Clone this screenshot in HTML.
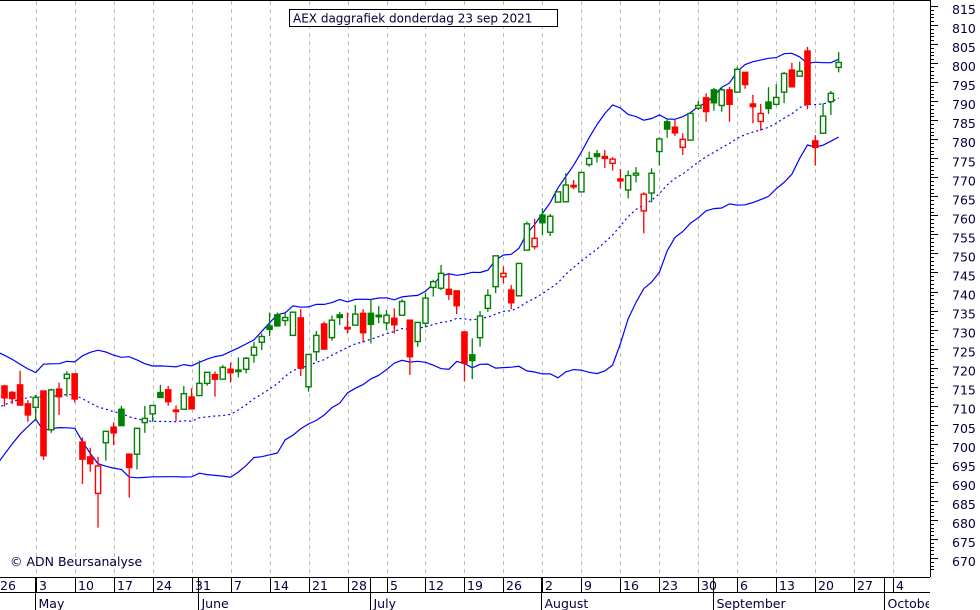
<!DOCTYPE html>
<html><head><meta charset="utf-8"><style>
html,body{margin:0;padding:0;background:#fff;}
svg{display:block;font-family:"DejaVu Sans","Liberation Sans",sans-serif;}
</style></head><body>
<svg id="chart" width="980" height="610" viewBox="0 0 980 610" xmlns="http://www.w3.org/2000/svg">
<rect x="0" y="0" width="980" height="610" fill="#fff"/>
<g id="grid"></g>
<g id="bands" clip-path="url(#plotclip)"></g>
<g id="candles" clip-path="url(#plotclip)"></g>
<defs><clipPath id="plotclip"><rect x="0" y="0" width="930" height="577"/></clipPath>
<clipPath id="axclip"><rect x="0" y="577" width="929" height="33"/></clipPath></defs>
<line x1="0" y1="0.5" x2="930" y2="0.5" stroke="#000"/>
<line x1="930.5" y1="0" x2="930.5" y2="577" stroke="#000"/>
<line x1="0" y1="577.5" x2="930" y2="577.5" stroke="#000"/>
<line x1="0" y1="592.5" x2="930" y2="592.5" stroke="#000"/>
<g id="yaxis"></g>
<g id="xaxis" clip-path="url(#axclip)"></g>
<g>
<rect x="289.5" y="9.5" width="268" height="17" fill="#fff" stroke="#000"/>
<text x="293" y="22.5" font-size="12" fill="#00003c">AEX daggrafiek donderdag 23 sep 2021</text>
</g>
<text x="10" y="566" font-size="12.5" fill="#00003c">© ADN Beursanalyse</text>
</svg>
<script>
const priorCloses=[694,696,698,700,703,706,708,710,713,715,716,717,716,715,717,714,713,715,716,715];
const opens=[715.7,714.0,716.0,711.0,710.1,714.4,704.2,714.9,717.7,718.9,701.0,697.1,687.5,700.8,704.9,709.6,697.8,697.8,706.1,708.4,714.0,714.7,709.4,709.6,712.8,713.2,716.4,718.7,717.5,720.1,719.9,720.1,723.8,727.2,731.5,734.4,732.9,729.0,733.6,715.5,724.7,732.0,728.4,734.4,731.1,731.7,734.8,734.8,734.3,732.3,733.5,734.3,733.0,727.4,732.2,741.6,741.4,741.1,740.7,729.9,723.9,728.4,736.1,741.8,744.4,740.9,739.4,751.4,752.3,760.6,756.1,764.0,764.1,768.4,766.7,773.9,776.7,776.0,774.2,770.1,767.2,771.1,761.7,766.4,777.3,785.1,783.7,778.4,780.3,788.7,791.4,793.5,789.4,793.5,792.9,798.1,789.8,785.2,790.3,789.7,792.9,798.7,797.1,803.7,780.1,782.1,790.4,799.4];
const highs=[716.0,714.4,719.7,712.0,713.3,714.4,715.0,716.6,719.6,718.9,702.2,699.5,697.1,703.8,706.2,710.5,698.0,704.6,710.5,710.6,716.0,715.7,710.6,715.7,715.1,722.4,719.3,719.5,721.2,721.8,723.2,723.3,727.3,729.5,735.0,735.0,734.8,735.1,735.9,724.0,730.2,732.6,734.2,735.1,735.0,737.0,735.9,738.5,736.7,735.7,736.1,738.5,733.0,732.4,740.1,743.6,747.5,745.0,740.7,729.9,728.2,735.4,741.1,749.9,747.1,742.2,747.9,758.9,759.6,762.4,760.9,766.7,771.6,769.8,772.0,777.3,777.7,777.7,775.8,772.7,772.3,773.2,766.6,772.9,781.0,785.8,785.6,782.1,787.3,790.6,792.6,794.0,794.3,794.3,799.6,798.1,792.2,789.8,794.2,795.0,798.2,800.6,800.9,804.8,781.6,790.0,793.2,803.4];
const lows=[710.3,711.0,710.7,706.3,706.5,696.3,703.4,708.1,712.9,711.4,690.0,693.2,678.5,696.1,700.2,705.3,686.4,693.8,703.4,706.3,712.7,710.5,706.5,709.6,709.7,713.2,715.8,712.9,717.5,716.6,718.0,719.0,721.8,725.2,728.8,731.3,731.5,729.0,718.3,714.2,722.3,725.4,727.6,731.7,729.5,731.7,727.1,726.9,732.2,730.4,729.5,734.3,718.6,726.0,731.1,739.2,740.9,738.3,734.6,716.9,717.5,726.0,735.2,740.1,742.7,735.9,739.4,751.4,751.6,755.4,755.1,763.9,764.1,767.4,766.7,773.3,774.4,773.0,772.3,767.6,765.0,769.2,755.8,763.9,773.6,780.9,781.4,776.4,780.3,788.2,785.1,788.0,787.8,785.1,792.9,793.8,784.7,782.8,787.2,789.4,790.0,794.3,797.1,788.4,773.6,782.1,786.9,798.1];
const closes=[712.6,712.4,710.7,708.1,712.7,697.4,714.7,712.9,718.8,712.3,696.5,695.3,694.7,703.8,703.4,705.3,694.3,704.6,707.2,710.6,712.7,711.6,709.0,713.7,709.7,716.4,719.3,717.5,720.6,719.2,719.5,723.0,725.9,728.7,730.6,731.5,733.7,735.1,720.4,724.0,729.0,725.4,733.0,733.7,730.7,734.6,729.7,731.9,733.9,734.3,731.8,737.9,723.4,732.4,738.8,743.1,745.3,739.8,736.8,721.7,722.4,734.1,739.5,749.9,745.3,737.6,747.9,758.3,754.5,758.6,760.3,766.7,768.5,768.1,771.8,775.5,776.0,775.5,775.3,769.6,771.0,771.6,766.1,771.6,780.6,783.2,782.2,780.5,787.3,789.4,787.8,790.1,793.5,789.7,798.9,794.9,789.1,787.3,788.6,791.5,797.8,794.3,798.4,789.7,778.4,786.6,792.6,800.7];
const weekLabels=["26","3","10","17","24","31","7","14","21","28","5","12","19","26","2","9","16","23","30","6","13","20","27","4"];
const monthLabels=["May","June","July","August","September","October"];
const monthStartIdx=[5,26,48,70,92,114];
const yTicks=[815,810,805,800,795,790,785,780,775,770,765,760,755,750,745,740,735,730,725,720,715,710,705,700,695,690,685,680,675,670];

const NS="http://www.w3.org/2000/svg";
function xOf(i){return -3.3+7.796*i;}
function yOf(v){return 8+(815-v)*3.807;}
function mk(tag,attrs,parent){const e=document.createElementNS(NS,tag);for(const k in attrs)e.setAttribute(k,attrs[k]);parent.appendChild(e);return e;}
const grid=document.getElementById('grid'),bands=document.getElementById('bands'),cg=document.getElementById('candles'),ya=document.getElementById('yaxis'),xa=document.getElementById('xaxis');

// vertical weekly gridlines
for(let w=1;w<weekLabels.length;w++){
  const x=Math.round(xOf(w*5))+0.5;
  if(x>929)continue;
  const l=mk('line',{x1:x,y1:1,x2:x,y2:577,stroke:'#bdbdbd','stroke-dasharray':'4,4'},grid);
  
  
}

// bollinger bands (20-day SMA +/- 2 sd) from closes
const all=priorCloses.concat(closes);
const up=[],mid=[],lo=[];
for(let k=19;k<all.length;k++){
  const w=all.slice(k-19,k+1);const m=w.reduce((a,b)=>a+b,0)/20;
  const sd=Math.sqrt(w.reduce((a,b)=>a+(b-m)*(b-m),0)/20);
  const i=k-19;
  up.push([xOf(i),yOf(m+2*sd)]);mid.push([xOf(i),yOf(m)]);lo.push([xOf(i),yOf(m-2*sd)]);
}
function pl(pts){return pts.map(p=>p[0].toFixed(1)+','+p[1].toFixed(1)).join(' ');}
const bu=mk('polyline',{points:pl(up),fill:'none',stroke:'#0000ff','stroke-width':1.2},bands);


const bm=mk('polyline',{points:pl(mid),fill:'none',stroke:'#0000ff','stroke-width':1.2,'stroke-dasharray':'2,3'},bands);


const bl=mk('polyline',{points:pl(lo),fill:'none',stroke:'#0000ff','stroke-width':1.2},bands);



// candles
for(let j=0;j<closes.length;j++){
  const i=j+1;const x=xOf(i);
  const prev=j===0?priorCloses[priorCloses.length-1]:closes[j-1];
  const col=closes[j]>=prev?'#008000':'#ff0000';
  const filled=closes[j]<opens[j];
  const g=mk('g',{},cg);
  
  
  const top=yOf(Math.max(opens[j],closes[j])),bot=yOf(Math.min(opens[j],closes[j]));
  mk('line',{x1:x,y1:yOf(highs[j]),x2:x,y2:yOf(lows[j]),stroke:col,'stroke-width':1.3},g);
  const h=Math.max(bot-top,1.5);
  mk('rect',{x:x-2.6,y:top,width:5.2,height:h,fill:filled?col:'#fff',stroke:col,'stroke-width':1.4},g);
}

// y axis
for(let v=667;v<=815;v++){
  const y=Math.round(yOf(v)-2)+0.5;
  const major=v%5===0;
  const t=mk('line',{x1:930,y1:y,x2:major?938:934,y2:y,stroke:'#000'},ya);
  
  
}
yTicks.forEach(v=>{
  const t=mk('text',{x:952,y:yOf(v)+6,'font-size':12.5,fill:'#00003c'},ya);
  t.textContent=v;
  
  
});

// x axis
weekLabels.forEach((lab,w)=>{
  const x=Math.round(xOf(w*5))+0.5;
  const l=mk('line',{x1:x,y1:577,x2:x,y2:592,stroke:'#000'},xa);
  
  
  const t=mk('text',{x:x+2.5,y:590,'font-size':12.5,fill:'#00003c'},xa);
  t.textContent=lab;
  
  
});
monthLabels.forEach((lab,k)=>{
  const x=Math.round(xOf(monthStartIdx[k])-1)+0.5;
  const l=mk('line',{x1:x,y1:577,x2:x,y2:610,stroke:'#000'},xa);
  
  
  const t=mk('text',{x:x+3,y:608,'font-size':12.5,fill:'#00003c'},xa);
  t.textContent=lab;
  
  
});
</script>
</body></html>
